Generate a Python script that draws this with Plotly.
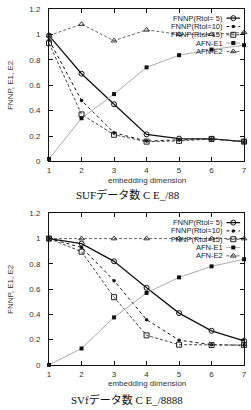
import plotly.graph_objects as go

W, H = 251, 410

dims = [1, 2, 3, 4, 5, 6, 7]
series_names = ["FNNP(Rtol= 5)", "FNNP(Rtol=10)", "FNNP(Rtol=15)", "AFN-E1", "AFN-E2"]

# Top chart
top_fnnp5 = [0.99, 0.69, 0.45, 0.213, 0.18, 0.178, 0.156]
top_fnnp10 = [0.955, 0.48, 0.226, 0.16, 0.17, 0.177, 0.156]
top_fnnp15 = [0.93, 0.37, 0.21, 0.156, 0.162, 0.177, 0.156]
top_e1 = [0.02, 0.34, 0.53, 0.74, 0.836, 0.88, 0.915]
top_e2 = [0.99, 1.08, 0.95, 1.035, 1.0, 1.0, 1.015]

# Bottom chart
bot_fnnp5 = [1.0, 0.96, 0.82, 0.61, 0.41, 0.27, 0.19]
bot_fnnp10 = [1.0, 0.93, 0.667, 0.358, 0.196, 0.16, 0.155]
bot_fnnp15 = [1.0, 0.896, 0.536, 0.234, 0.16, 0.157, 0.157]
bot_e1 = [0.0, 0.13, 0.376, 0.57, 0.693, 0.78, 0.837]
bot_e2 = [1.0, 1.0, 1.0, 1.0, 1.0, 1.0, 1.0]

y_ticks = [0, 0.2, 0.4, 0.6, 0.8, 1, 1.2]
y_ticklabels = ["0", "0.2", "0.4", "0.6", "0.8", "1", "1.2"]
x_title = "embedding dimension"
y_title = "FNNP, E1, E2"
captions = ["SUFデータ数 C E_/88", "SVfデータ数 C E_/8888"]

styles = [
    dict(line=dict(color="#111", width=1.3, dash="solid"),
         marker=dict(symbol="circle-open", size=5, color="#111", line=dict(width=1))),
    dict(line=dict(color="#111", width=1, dash="dot"),
         marker=dict(symbol="circle", size=3.5, color="#111")),
    dict(line=dict(color="#444", width=1, dash="3px,2px"),
         marker=dict(symbol="square-open", size=5, color="#222", line=dict(width=1))),
    dict(line=dict(color="#aaa", width=1, dash="solid"),
         marker=dict(symbol="square", size=4, color="#111")),
    dict(line=dict(color="#666", width=1, dash="3px,2px"),
         marker=dict(symbol="triangle-up-open", size=5, color="#333", line=dict(width=1))),
]

# pixel layout of the two plot areas
x_left_px, x_right_px = 48, 247
panels = [
    dict(top=5, bottom=161, data=[top_fnnp5, top_fnnp10, top_fnnp15, top_e1, top_e2],
         title_y=180, cap_y=195),
    dict(top=214, bottom=369, data=[bot_fnnp5, bot_fnnp10, bot_fnnp15, bot_e1, bot_e2],
         title_y=388, cap_y=404),
]

def px_x(p):
    return p / W

def px_y(p):
    return 1 - p / H

fig = go.Figure()
annotations = []
font_fam = "Liberation Sans, Arial, sans-serif"

for i, pn in enumerate(panels):
    xa = "x" if i == 0 else "x2"
    ya = "y" if i == 0 else "y2"
    for name, vals, st in zip(series_names, pn["data"], styles):
        fig.add_trace(go.Scatter(x=dims, y=vals, mode="lines+markers", name=name,
                                 line=st["line"], marker=st["marker"],
                                 xaxis=xa, yaxis=ya, showlegend=False, cliponaxis=False))
    # legend overlay axes
    oxa = "x3" if i == 0 else "x4"
    oya = "y3" if i == 0 else "y4"
    ph = pn["bottom"] - pn["top"]
    pw = x_right_px - x_left_px
    for k, (name, st) in enumerate(zip(series_names, styles)):
        row_px = pn["top"] + 9.5 + k * 8.5
        yy = (pn["bottom"] - row_px) / ph
        x0 = (229 - x_left_px) / pw
        x1 = (243 - x_left_px) / pw
        xm = (236 - x_left_px) / pw
        fig.add_trace(go.Scatter(x=[x0, x1], y=[yy, yy], mode="lines", line=st["line"],
                                 xaxis=oxa, yaxis=oya, showlegend=False, hoverinfo="skip"))
        fig.add_trace(go.Scatter(x=[xm], y=[yy], mode="markers", marker=st["marker"],
                                 xaxis=oxa, yaxis=oya, showlegend=False, hoverinfo="skip"))
        annotations.append(dict(text=name, x=px_x(227), y=px_y(row_px), xref="paper", yref="paper",
                                xanchor="right", yanchor="middle", showarrow=False, borderpad=0,
                                font=dict(size=7.5, family=font_fam, color="#222")))
    # axis titles and captions
    annotations.append(dict(text=x_title, x=px_x((x_left_px + x_right_px) / 2), y=px_y(pn["title_y"]),
                            xref="paper", yref="paper", showarrow=False, xanchor="center", yanchor="middle",
                            font=dict(size=8, family=font_fam, color="#333")))
    annotations.append(dict(text=y_title, x=px_x(8), y=px_y((pn["top"] + pn["bottom"]) / 2),
                            xref="paper", yref="paper", showarrow=False, textangle=-90,
                            xanchor="center", yanchor="middle",
                            font=dict(size=8, family=font_fam, color="#333")))
    annotations.append(dict(text=captions[i], x=px_x(73 if i == 0 else 68), y=px_y(pn["cap_y"]),
                            xref="paper", yref="paper", showarrow=False, xanchor="left", yanchor="middle",
                            font=dict(size=11, family="Liberation Serif, Noto Sans CJK JP, serif", color="#111")))

axis_common = dict(showgrid=False, zeroline=False, showline=True, linecolor="#111", linewidth=1,
                   mirror="ticks", ticks="inside", ticklen=4, tickcolor="#111",
                   tickfont=dict(size=8, family=font_fam, color="#333"), fixedrange=True)

xdom = [px_x(x_left_px), px_x(x_right_px)]
fig.update_layout(
    width=W, height=H, margin=dict(l=0, r=0, t=0, b=0),
    paper_bgcolor="white", plot_bgcolor="white", showlegend=False,
    xaxis=dict(domain=xdom, anchor="y", range=[1, 7], tickvals=dims, ticklabelstandoff=1, **axis_common),
    yaxis=dict(domain=[px_y(panels[0]["bottom"]), px_y(panels[0]["top"])], anchor="x", range=[0, 1.2],
               tickvals=y_ticks, ticktext=y_ticklabels, ticklabelstandoff=6, **axis_common),
    xaxis2=dict(domain=xdom, anchor="y2", range=[1, 7], tickvals=dims, ticklabelstandoff=1, **axis_common),
    yaxis2=dict(domain=[px_y(panels[1]["bottom"]), px_y(panels[1]["top"])], anchor="x2", range=[0, 1.2],
                tickvals=y_ticks, ticktext=y_ticklabels, ticklabelstandoff=6, **axis_common),
    xaxis3=dict(overlaying="x", anchor="y3", range=[0, 1], visible=False, fixedrange=True),
    yaxis3=dict(overlaying="y", anchor="x3", range=[0, 1], visible=False, fixedrange=True),
    xaxis4=dict(overlaying="x2", anchor="y4", range=[0, 1], visible=False, fixedrange=True),
    yaxis4=dict(overlaying="y2", anchor="x4", range=[0, 1], visible=False, fixedrange=True),
    annotations=annotations,
)

fig.write_html("out.html")
